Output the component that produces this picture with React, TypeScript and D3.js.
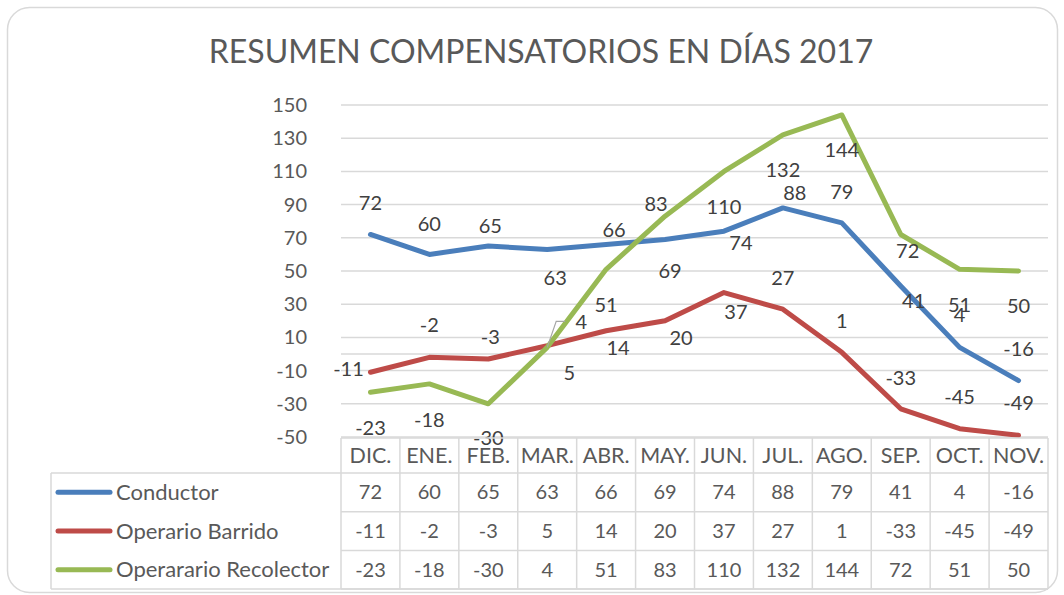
import React from 'react';
import * as d3 from 'd3';

const months = ['DIC.', 'ENE.', 'FEB.', 'MAR.', 'ABR.', 'MAY.', 'JUN.', 'JUL.', 'AGO.', 'SEP.', 'OCT.', 'NOV.'];
const conductor = [72, 60, 65, 63, 66, 69, 74, 88, 79, 41, 4, -16];
const barrido = [-11, -2, -3, 5, 14, 20, 37, 27, 1, -33, -45, -49];
const recolector = [-23, -18, -30, 4, 51, 83, 110, 132, 144, 72, 51, 50];
const seriesNames = ['Conductor', 'Operario Barrido', 'Operarario Recolector'];
const yTicks = [-50, -30, -10, 10, 30, 50, 70, 90, 110, 130, 150];

// label nudges (px) as Excel left them
const labelDx = [
  [0, 0, 2, 8, 8, 5, 17, 12, 0, 13, 0, 0],
  [-22, 0, 2, 22, 12, 16, 12, 0, 0, 0, 0, 0],
  [0, 0, 0, 34, 0, -9, 0, 0, 0, 7, 0, 0],
];
const labelDy = [
  [-31, -30, -20, 29, -14, 32, 12, -15, -31, 15, -32, -32],
  [-3, -32, -22, 27, 17, 17, 19, -31, -31, -31, -32, -32],
  [36, 36, 34, -25, 36, -12, 36, 35, 35, 17, 36, 35],
];

const colors = ['#4a7ebb', '#be4b48', '#98b954'];
const font = 'Lato, "Open Sans", sans-serif';

export default function App() {
  const width = 1064;
  const height = 595;
  const tableLeft = 51;
  const plotLeft = 341;
  const plotRight = 1048;
  const headerTop = 438;
  const headerH = 35;
  const rowH = 38.7;

  const x = d3.scaleBand().domain(months).range([plotLeft, plotRight]).padding(0);
  const y = d3.scaleLinear().domain([-50, 150]).range([437, 105]);
  const cx = (m: string) => (x(m) as number) + x.bandwidth() / 2;

  const allSeries = [conductor, barrido, recolector];
  const line = d3.line<number>()
    .x((d, i) => cx(months[i]))
    .y(d => y(d));

  const tableBottom = headerTop + headerH + rowH * 3;

  // leader line for the moved "4" label on MAR
  const lx = cx(months[3]);
  const ly = y(recolector[3]);

  return (
    <div style={{ position: 'fixed', left: 0, top: 0 }}>
      <svg width={width} height={height} style={{ display: 'block', background: '#fff' }}>
        <rect x={7.5} y={7.5} width={1050} height={585} rx={22} fill="#fff" stroke="#d9d9d9" strokeWidth={1.5} />

        <text x={541} y={63} textAnchor="middle" fontFamily={font} fontSize={32} fill="#595959">
          RESUMEN COMPENSATORIOS EN DÍAS 2017
        </text>

        {/* gridlines */}
        {yTicks.map(t => (
          <line key={t} x1={plotLeft} x2={plotRight} y1={y(t)} y2={y(t)} stroke="#d9d9d9" strokeWidth={1.5} />
        ))}
        <line x1={plotLeft} x2={plotRight} y1={y(0)} y2={y(0)} stroke="#d9d9d9" strokeWidth={1.5} />

        {/* y tick labels */}
        {yTicks.map(t => (
          <text key={'t' + t} x={307} y={y(t)} dy="0.35em" textAnchor="end" fontFamily={font} fontSize={20} fill="#595959">
            {t}
          </text>
        ))}

        {/* series lines */}
        {allSeries.map((s, si) => (
          <path key={si} d={line(s) || ''} fill="none" stroke={colors[si]} strokeWidth={5}
            strokeLinejoin="round" strokeLinecap="round" />
        ))}

        <polyline
          points={`${lx},${ly} ${lx + 9},${ly - 26} ${lx + 18},${ly - 26}`}
          fill="none" stroke="#a6a6a6" strokeWidth={1.2} />

        {/* data labels */}
        {allSeries.map((s, si) =>
          s.map((v, i) => (
            <text key={si + '-' + i}
              x={cx(months[i]) + labelDx[si][i]}
              y={y(v) + labelDy[si][i]}
              dy="0.35em" textAnchor="middle" fontFamily={font} fontSize={20} fill="#404040">
              {v}
            </text>
          ))
        )}

        {/* data table */}
        <g stroke="#d9d9d9" strokeWidth={1.5} fill="none">
          <line x1={plotLeft} x2={plotRight} y1={headerTop} y2={headerTop} />
          {[0, 1, 2, 3].map(r => (
            <line key={'h' + r} x1={r === 0 ? tableLeft : plotLeft} x2={plotRight}
              y1={headerTop + headerH + rowH * r} y2={headerTop + headerH + rowH * r} />
          ))}
          <line x1={tableLeft} x2={plotRight} y1={tableBottom} y2={tableBottom} />
          <line x1={tableLeft} x2={tableLeft} y1={headerTop + headerH} y2={tableBottom} />
          {months.map(m => (
            <line key={'v' + m} x1={x(m)} x2={x(m)} y1={headerTop} y2={tableBottom} />
          ))}
          <line x1={plotRight} x2={plotRight} y1={headerTop} y2={tableBottom} />
        </g>

        {months.map(m => (
          <text key={'m' + m} x={cx(m)} y={headerTop + headerH / 2} dy="0.35em" textAnchor="middle"
            fontFamily={font} fontSize={21.5} fill="#595959">
            {m}
          </text>
        ))}

        {allSeries.map((s, si) => {
          const rowMid = headerTop + headerH + rowH * si + rowH / 2;
          return (
            <g key={'row' + si}>
              <line x1={58} x2={110} y1={rowMid} y2={rowMid} stroke={colors[si]} strokeWidth={5} strokeLinecap="round" />
              <text x={116} y={rowMid} dy="0.35em" fontFamily={font} fontSize={22} fill="#595959">
                {seriesNames[si]}
              </text>
              {s.map((v, i) => (
                <text key={i} x={cx(months[i])} y={rowMid} dy="0.35em" textAnchor="middle"
                  fontFamily={font} fontSize={20} fill="#595959">
                  {v}
                </text>
              ))}
            </g>
          );
        })}
      </svg>
    </div>
  );
}
